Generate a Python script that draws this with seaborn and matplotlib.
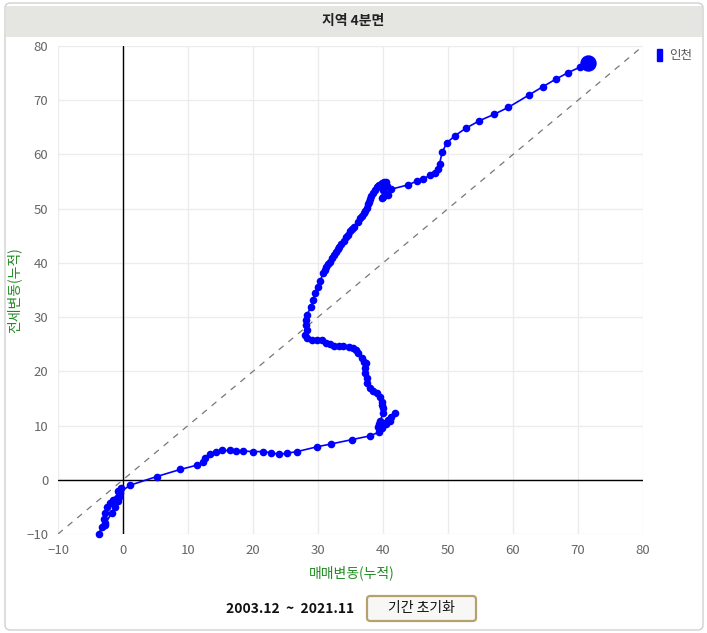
import matplotlib
matplotlib.use("Agg")
import matplotlib.pyplot as plt
import matplotlib.patches as mpatches
import seaborn as sns
import pandas as pd

sns.set_theme(style="white")
plt.rcParams["font.family"] = ["Noto Sans CJK KR", "DejaVu Sans"]

REGION = "인천"
PERIOD = "2003.12  ~  2021.11"

# 매매변동(누적), 전세변동(누적), in time order
sale = [-0.3, -0.6, -1.0, -1.5, -2.0, -2.5, -2.8, -2.9, -2.8, -3.3, -3.7,
        -2.7, -1.7, -1.3, -0.8, -0.6, -0.5, -0.7, -0.4, -0.6,
        1.1, 5.2, 8.8, 11.4, 12.3, 12.6, 13.4, 14.3, 15.2, 16.4, 17.4, 18.5,
        20.0, 21.5, 22.7, 24.0, 25.2, 26.8, 29.9, 32.0, 35.2, 38.0, 39.4,
        39.6, 39.3, 39.8, 40.4, 41.1, 41.8, 41.3, 40.8, 40.0, 39.4, 39.6,
        40.0, 40.0, 39.8, 39.8, 39.5, 39.1, 38.5, 38.0, 37.6, 37.5, 37.2,
        37.2, 37.4, 37.0, 36.7, 36.2, 35.9, 35.4, 34.7, 33.9, 33.2, 32.5,
        31.8, 31.3, 30.6, 29.8, 29.0, 28.3, 28.0, 28.3, 28.2, 28.2, 28.3,
        28.9, 29.3, 29.5, 30.0, 30.3, 30.8, 31.0, 31.3, 31.5, 31.8, 32.1,
        32.4, 32.7, 33.0, 33.3, 33.6, 34.0, 34.3, 34.6, 34.9, 35.3, 35.6,
        36.1, 36.5, 36.8, 37.1, 37.3, 37.5, 37.7, 37.9, 38.0, 38.2, 38.5,
        38.7, 39.0, 39.2, 39.4, 39.8, 40.2, 40.5, 40.6, 40.0, 40.3, 39.8,
        40.0, 40.8, 41.3, 43.9, 45.2, 46.2, 47.3, 48.0, 48.4, 48.7, 49.1,
        49.8, 51.0, 52.7, 54.8, 57.1, 59.3, 62.5, 64.6, 66.6, 68.5, 70.3,
        71.5]
jeonse = [-1.6, -2.2, -3.4, -3.7, -4.3, -5.0, -6.1, -7.2, -8.3, -8.8, -10.0,
          -8.0, -6.1, -5.0, -4.0, -3.1, -2.5, -2.0, -1.8, -2.4,
          -1.0, 0.6, 1.9, 2.7, 3.3, 4.0, 4.8, 5.1, 5.4, 5.4, 5.3, 5.3,
          5.2, 5.2, 5.0, 4.7, 4.9, 5.2, 6.1, 6.6, 7.4, 8.1, 8.8,
          9.3, 9.8, 9.5, 10.3, 10.9, 12.3, 11.5, 11.0, 10.4, 10.2, 10.8,
          12.4, 13.2, 13.8, 14.4, 15.3, 16.0, 16.3, 16.9, 17.9, 18.7, 19.7,
          20.6, 21.5, 21.8, 22.4, 23.3, 23.9, 24.3, 24.5, 24.7, 24.7, 24.7,
          25.0, 25.2, 25.7, 25.8, 25.8, 26.1, 26.7, 27.6, 28.6, 29.5, 30.4,
          31.9, 33.2, 34.4, 35.6, 36.6, 38.1, 38.7, 39.3, 39.8, 40.2, 40.9,
          41.5, 42.0, 42.5, 43.0, 43.4, 44.0, 44.7, 45.2, 45.8, 46.3, 46.7,
          47.6, 48.2, 48.7, 49.2, 49.6, 50.1, 50.9, 51.3, 51.8, 52.4, 52.9,
          53.5, 54.0, 54.2, 54.4, 54.7, 54.9, 55.0, 54.1, 53.5, 52.9, 51.9,
          52.2, 52.5, 53.6, 54.4, 55.1, 55.5, 56.2, 56.5, 57.3, 58.3, 60.4,
          62.1, 63.4, 64.8, 66.2, 67.4, 68.7, 71.0, 72.5, 73.9, 75.1, 76.1,
          76.8]

ticks = list(range(-10, 81, 10))

df = pd.DataFrame({"sale": sale, "jeonse": jeonse})

W, H = 707, 633
fig = plt.figure(figsize=(W / 100, H / 100), dpi=100)

# card border + title bar (behind the axes)
fig.patches.append(mpatches.FancyBboxPatch((5 / W, 3 / H), 698 / W, 627 / H,
                   boxstyle="round,pad=0,rounding_size=0.008", transform=fig.transFigure,
                   facecolor="none", edgecolor="#d0d0d0", linewidth=1, zorder=-2))
fig.patches.append(mpatches.Rectangle((6 / W, 1 - 37 / H), 696 / W, 31 / H,
                   transform=fig.transFigure, facecolor="#e5e6e1", edgecolor="none", zorder=-1))
fig.text(353 / W, 1 - 21 / H, "지역 4분면", ha="center", va="center",
         fontsize=10, fontweight="bold", color="#222222")

ax = fig.add_axes([58 / W, 1 - 534 / H, 585 / W, 488 / H])
ax.set_zorder(2)
ax.set_facecolor("white")

ax.plot([-10, 80], [-10, 80], linestyle=(0, (5, 5)), color="#777777", linewidth=0.9, zorder=1)
ax.axhline(0, color="black", linewidth=1, zorder=2)
ax.axvline(0, color="black", linewidth=1, zorder=2)

sns.lineplot(data=df, x="sale", y="jeonse", sort=False, estimator=None, ax=ax,
             color="#0000ff", linewidth=1.2, marker="o", markersize=5.5,
             markeredgewidth=0, zorder=3, clip_on=False)
sns.scatterplot(x=[sale[-1]], y=[jeonse[-1]], ax=ax, color="#0000ff", s=140,
                linewidth=0, zorder=4, clip_on=False)

ax.set_xlim(-10, 80)
ax.set_ylim(-10, 80)
ax.set_xticks(ticks)
ax.set_yticks(ticks)
ax.grid(True, color="#ececec", linewidth=1)
for s in ax.spines.values():
    s.set_visible(False)
ax.tick_params(axis="both", labelsize=9.5, colors="#666666", length=4, width=1, pad=3)
ax.tick_params(axis="x", color="#e0e0e0")
ax.tick_params(axis="y", color="#e0e0e0")
ax.set_xlabel("")
ax.set_ylabel("")

legend_handle = mpatches.Patch(color="#0000ff", label=REGION)
ax.legend(handles=[legend_handle], loc="upper left", bbox_to_anchor=(1.015, 1.005),
          frameon=False, fontsize=9, handlelength=0.45, handleheight=1.1,
          handletextpad=0.5, labelcolor="#555555", borderaxespad=0)

fig.text(352 / W, 1 - 573 / H, "매매변동(누적)", ha="center", va="center",
         fontsize=10, color="#1f8a1f")
fig.text(14 / W, 1 - 290 / H, "전세변동(누적)", ha="center", va="center",
         fontsize=10, color="#1f8a1f", rotation=90)

fig.text(290 / W, 1 - 609 / H, PERIOD, ha="center", va="center",
         fontsize=10, fontweight="bold", color="#111111")
fig.patches.append(mpatches.FancyBboxPatch((367 / W, 1 - 621 / H), 109 / W, 25 / H,
                   boxstyle="round,pad=0,rounding_size=0.005", transform=fig.transFigure,
                   facecolor="#f7f7f5", edgecolor="#b5a16c", linewidth=1.6, zorder=1))
fig.text(421 / W, 1 - 608 / H, "기간 초기화", ha="center", va="center",
         fontsize=10, color="#111111")

fig.savefig("out.png", dpi=100)
